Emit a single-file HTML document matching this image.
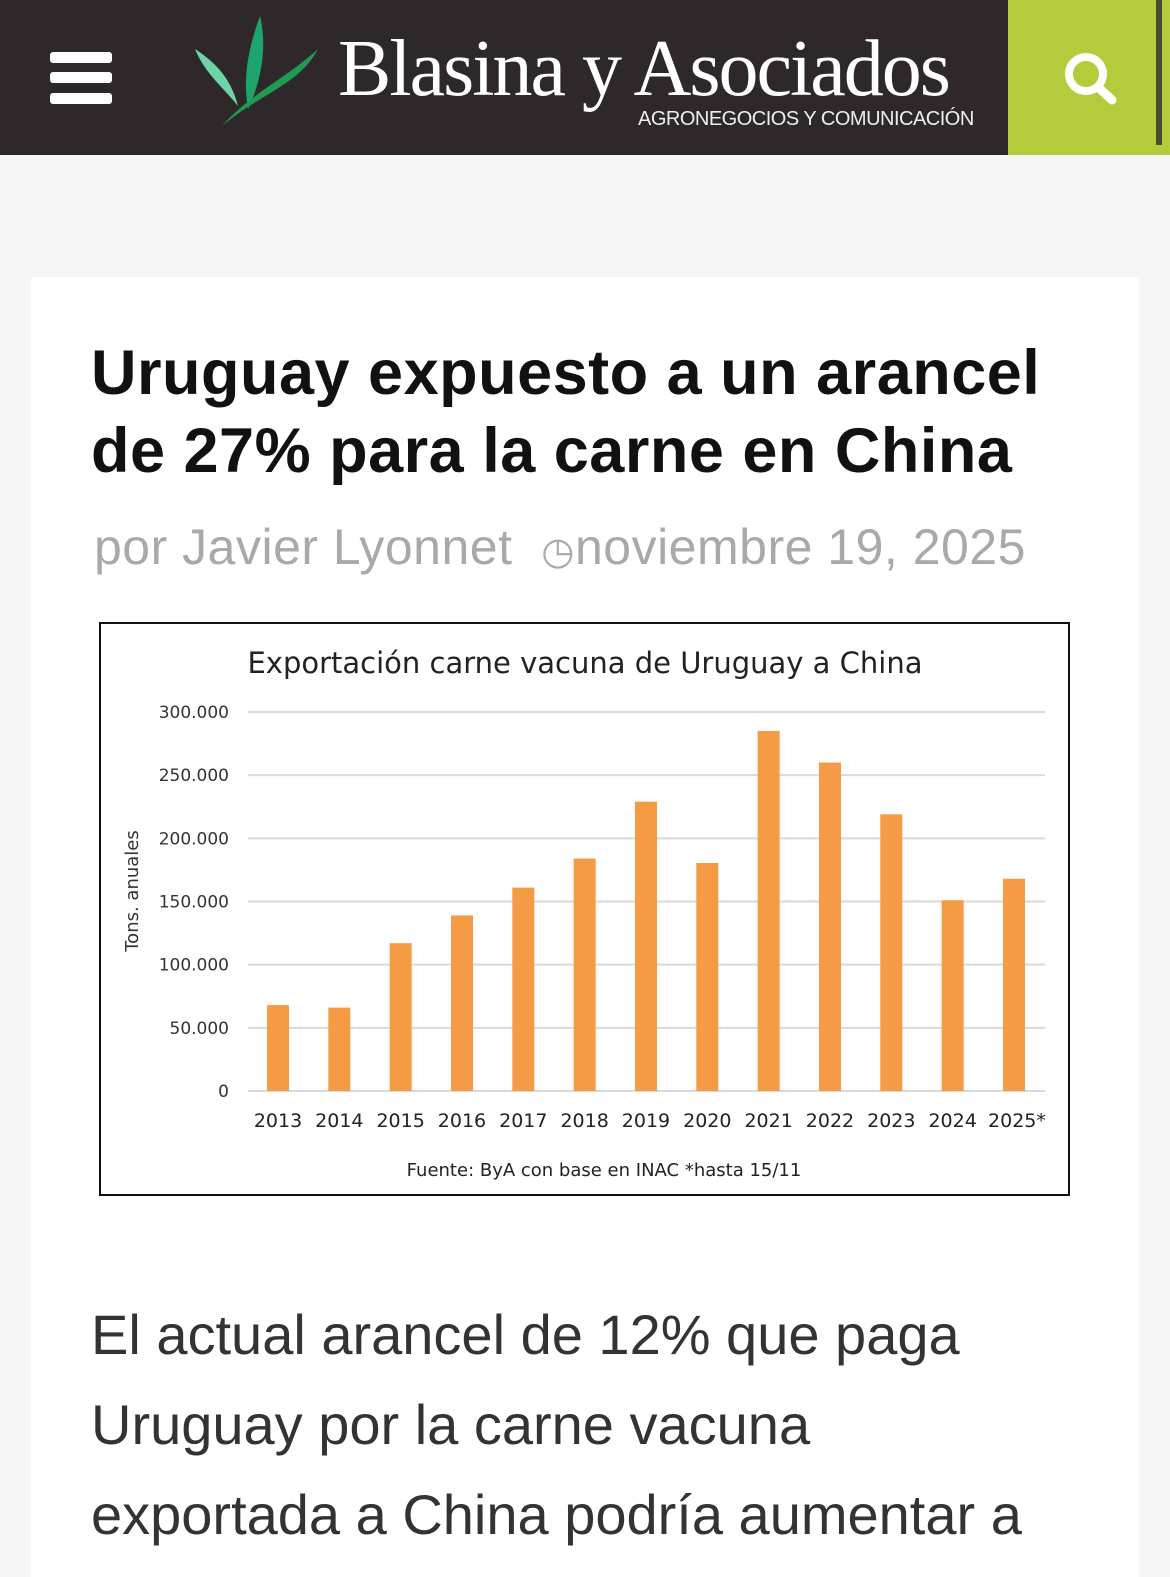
<!DOCTYPE html>
<html><head><meta charset="utf-8">
<style>
body{margin:0;width:1170px;height:1555px;overflow:hidden;background:#f6f6f6;font-family:"Liberation Sans",sans-serif;position:relative}
.hdr{position:absolute;left:0;top:0;width:1170px;height:155px;background:#2f282b}
.menu span{position:absolute;left:50px;width:62px;height:11px;background:#fff;border-radius:3px}
.search{position:absolute;left:1008px;top:0;width:162px;height:155px;background:#b5cb3b}
.card{position:absolute;left:31px;top:277px;width:1108px;height:1300px;background:#fff}
h1{position:absolute;left:91px;top:334px;margin:0;font-size:63px;line-height:78px;font-weight:bold;color:#111;width:990px;letter-spacing:0.5px}
.by{position:absolute;left:94px;top:518px;font-size:50px;color:#a9a9a9;letter-spacing:0.5px}
.body{position:absolute;left:91px;top:1290px;font-size:56px;line-height:90px;color:#333;width:960px}
</style></head><body>
<div class="hdr">
 <div class="menu"><span style="top:52px"></span><span style="top:72px"></span><span style="top:93px"></span></div>
 <svg style="position:absolute;left:190px;top:14px" width="135" height="115" viewBox="0 0 135 115">
  <path d="M70 2 C60 30 52 60 58 95 C70 70 78 35 70 2Z" fill="#1da56e"/>
  <path d="M5 35 C20 45 40 60 48 92 C35 75 15 60 5 35Z" fill="#6fd3a8"/>
  <path d="M128 35 C110 70 70 80 32 112 C60 80 95 65 128 35Z" fill="#1f9a4e"/>
 </svg>
 <div style="position:absolute;left:338px;top:24px;font-family:'Liberation Serif',serif;font-size:80px;color:#fff;letter-spacing:-2px;line-height:90px">Blasina y Asociados</div>
 <div style="position:absolute;left:638px;top:108px;font-size:20px;color:#eee;letter-spacing:-0.5px">AGRONEGOCIOS Y COMUNICACIÓN</div>
 <div class="search">
  <svg width="162" height="155"><circle cx="78" cy="74" r="17" stroke="#fff" stroke-width="8" fill="none"/><line x1="91" y1="88" x2="104" y2="100" stroke="#fff" stroke-width="9" stroke-linecap="round"/><rect x="148" y="0" width="6" height="145" fill="#4a4a30"/></svg>
 </div>
</div>
<div class="card"></div>
<h1>Uruguay expuesto a un arancel<br>de 27% para la carne en China</h1>
<div class="by">por Javier Lyonnet &nbsp;<span style="font-size:38px">◷</span>noviembre 19, 2025</div>
<svg id="chart" style="position:absolute;left:0;top:0" width="1170" height="1555"></svg>
<div class="body">El actual arancel de 12% que paga Uruguay por la carne vacuna exportada a China podría aumentar a</div>
<script>
const categories=["2013","2014","2015","2016","2017","2018","2019","2020","2021","2022","2023","2024","2025*"];
const values=[68000,66000,117000,139000,161000,184000,229000,180500,285000,260000,219000,151000,168000];
const ticks=[0,50000,100000,150000,200000,250000,300000];
const tickLabels=["0","50.000","100.000","150.000","200.000","250.000","300.000"];
const NS="http://www.w3.org/2000/svg";
const svg=document.getElementById('chart');
function mk(t,a,txt){const e=document.createElementNS(NS,t);for(const k in a)e.setAttribute(k,a[k]);if(txt)e.textContent=txt;svg.appendChild(e);return e;}
const y=v=>1091-v*(379/300000);
const x=i=>278+i*61.33;
let e=mk('rect',{x:100,y:623,width:969,height:572,fill:'#fff',stroke:'#111','stroke-width':2});


e=mk('text',{x:585,y:673,'text-anchor':'middle','font-size':29,fill:'#222','font-family':'DejaVu Sans, sans-serif'},'Exportación carne vacuna de Uruguay a China');


ticks.forEach((t,i)=>{
 let g=mk('line',{x1:248,x2:1045,y1:y(t),y2:y(t),stroke:'#d9d9d9','stroke-width':2});
 
 
 let l=mk('text',{x:229,y:y(t)+6,'text-anchor':'end','font-size':17,fill:'#333','font-family':'DejaVu Sans, sans-serif'},tickLabels[i]);
 
 
});
values.forEach((v,i)=>{
 let b=mk('rect',{x:x(i)-11,y:y(v),width:22,height:y(0)-y(v),fill:'#f59a45'});
 
 
 let l=mk('text',{x:x(i)+(i==12?3:0),y:1127,'text-anchor':'middle','font-size':19,fill:'#222','font-family':'DejaVu Sans, sans-serif'},categories[i]);
 
 
});
e=mk('text',{x:0,y:0,transform:'translate(138,891) rotate(-90)','text-anchor':'middle','font-size':18,fill:'#333','font-family':'DejaVu Sans, sans-serif'},'Tons. anuales');


e=mk('text',{x:604,y:1176,'text-anchor':'middle','font-size':18,fill:'#222','font-family':'DejaVu Sans, sans-serif'},'Fuente: ByA con base en INAC *hasta 15/11');


</script>
</body></html>
